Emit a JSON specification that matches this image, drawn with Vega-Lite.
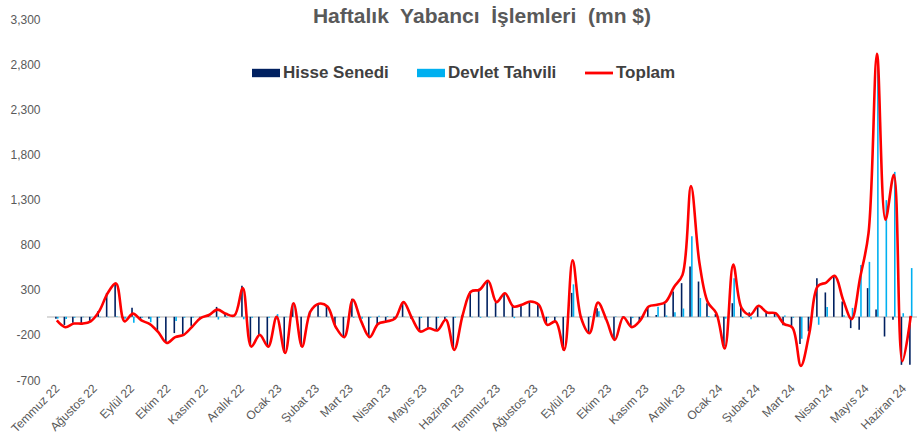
{
  "$schema": "https://vega.github.io/schema/vega-lite/v6.json",
  "width": 870,
  "height": 361,
  "autosize": {"type": "none"},
  "padding": {"left": 47, "top": 19, "right": 0, "bottom": 60},
  "background": "white",
  "config": {
    "view": {"stroke": null},
    "font": "Liberation Sans"
  },
  "title": {
    "text": "Haftalık\u00a0 Yabancı\u00a0 İşlemleri\u00a0 (mn $)",
    "font": "Liberation Sans",
    "fontSize": 21,
    "fontWeight": "bold",
    "color": "#595959",
    "anchor": "middle",
    "offset": -14
  },
  "data": {
    "values": [
      {"hafta": "2022/07/01", "hisse": -20, "tahvil": -20, "toplam": -40},
      {"hafta": "2022/07/08", "hisse": -90, "tahvil": -25, "toplam": -115},
      {"hafta": "2022/07/15", "hisse": -65, "tahvil": -10, "toplam": -75},
      {"hafta": "2022/07/22", "hisse": -70, "tahvil": -5, "toplam": -75},
      {"hafta": "2022/07/29", "hisse": -45, "tahvil": -5, "toplam": -50},
      {"hafta": "2022/08/05", "hisse": 65, "tahvil": -5, "toplam": 60},
      {"hafta": "2022/08/12", "hisse": 265, "tahvil": -5, "toplam": 260},
      {"hafta": "2022/08/19", "hisse": 365, "tahvil": 5, "toplam": 370},
      {"hafta": "2022/08/26", "hisse": -30, "tahvil": -20, "toplam": -50},
      {"hafta": "2022/09/02", "hisse": 100, "tahvil": -65, "toplam": 35},
      {"hafta": "2022/09/09", "hisse": -30, "tahvil": -10, "toplam": -40},
      {"hafta": "2022/09/16", "hisse": -20, "tahvil": -60, "toplam": -80},
      {"hafta": "2022/09/23", "hisse": -160, "tahvil": -10, "toplam": -170},
      {"hafta": "2022/09/30", "hisse": -290, "tahvil": 0, "toplam": -290},
      {"hafta": "2022/10/07", "hisse": -180, "tahvil": -45, "toplam": -225},
      {"hafta": "2022/10/14", "hisse": -190, "tahvil": -10, "toplam": -200},
      {"hafta": "2022/10/21", "hisse": -100, "tahvil": -10, "toplam": -110},
      {"hafta": "2022/10/28", "hisse": -10, "tahvil": -5, "toplam": -15},
      {"hafta": "2022/11/04", "hisse": 15, "tahvil": 5, "toplam": 20},
      {"hafta": "2022/11/11", "hisse": 110, "tahvil": -30, "toplam": 80},
      {"hafta": "2022/11/18", "hisse": 40, "tahvil": -7, "toplam": 33},
      {"hafta": "2022/11/25", "hisse": 15, "tahvil": 0, "toplam": 15},
      {"hafta": "2022/12/02", "hisse": 345, "tahvil": -27, "toplam": 318},
      {"hafta": "2022/12/09", "hisse": -320, "tahvil": -10, "toplam": -330},
      {"hafta": "2022/12/16", "hisse": -200, "tahvil": 0, "toplam": -200},
      {"hafta": "2022/12/23", "hisse": -320, "tahvil": -10, "toplam": -330},
      {"hafta": "2022/12/30", "hisse": -30, "tahvil": 30, "toplam": 0},
      {"hafta": "2023/01/06", "hisse": -395, "tahvil": -5, "toplam": -400},
      {"hafta": "2023/01/13", "hisse": 150, "tahvil": 0, "toplam": 150},
      {"hafta": "2023/01/20", "hisse": -330, "tahvil": 0, "toplam": -330},
      {"hafta": "2023/01/27", "hisse": 60, "tahvil": 0, "toplam": 60},
      {"hafta": "2023/02/03", "hisse": 140, "tahvil": 5, "toplam": 145},
      {"hafta": "2023/02/10", "hisse": 120, "tahvil": -5, "toplam": 115},
      {"hafta": "2023/02/17", "hisse": -110, "tahvil": -5, "toplam": -115},
      {"hafta": "2023/02/24", "hisse": -220, "tahvil": -5, "toplam": -225},
      {"hafta": "2023/03/03", "hisse": 200, "tahvil": -10, "toplam": 190},
      {"hafta": "2023/03/10", "hisse": -30, "tahvil": -20, "toplam": -50},
      {"hafta": "2023/03/17", "hisse": -215, "tahvil": -10, "toplam": -225},
      {"hafta": "2023/03/24", "hisse": -90, "tahvil": 12, "toplam": -78},
      {"hafta": "2023/03/31", "hisse": -60, "tahvil": 8, "toplam": -52},
      {"hafta": "2023/04/07", "hisse": -30, "tahvil": 10, "toplam": -20},
      {"hafta": "2023/04/14", "hisse": 160, "tahvil": 3, "toplam": 163},
      {"hafta": "2023/04/21", "hisse": -20, "tahvil": 5, "toplam": -15},
      {"hafta": "2023/04/28", "hisse": -150, "tahvil": -13, "toplam": -163},
      {"hafta": "2023/05/05", "hisse": -120, "tahvil": -6, "toplam": -126},
      {"hafta": "2023/05/12", "hisse": -140, "tahvil": -11, "toplam": -151},
      {"hafta": "2023/05/19", "hisse": -40, "tahvil": 7, "toplam": -33},
      {"hafta": "2023/05/26", "hisse": -355, "tahvil": -11, "toplam": -366},
      {"hafta": "2023/06/02", "hisse": 15, "tahvil": 5, "toplam": 20},
      {"hafta": "2023/06/09", "hisse": 285, "tahvil": -5, "toplam": 280},
      {"hafta": "2023/06/16", "hisse": 310, "tahvil": -10, "toplam": 300},
      {"hafta": "2023/06/23", "hisse": 405, "tahvil": -5, "toplam": 400},
      {"hafta": "2023/06/30", "hisse": 160, "tahvil": 3, "toplam": 163},
      {"hafta": "2023/07/07", "hisse": 265, "tahvil": -3, "toplam": 262},
      {"hafta": "2023/07/14", "hisse": 130, "tahvil": -15, "toplam": 115},
      {"hafta": "2023/07/21", "hisse": 135, "tahvil": -2, "toplam": 133},
      {"hafta": "2023/07/28", "hisse": 170, "tahvil": 0, "toplam": 170},
      {"hafta": "2023/08/04", "hisse": 140, "tahvil": -5, "toplam": 135},
      {"hafta": "2023/08/11", "hisse": -80, "tahvil": -9, "toplam": -89},
      {"hafta": "2023/08/18", "hisse": -55, "tahvil": 3, "toplam": -52},
      {"hafta": "2023/08/25", "hisse": -370, "tahvil": 4, "toplam": -366},
      {"hafta": "2023/09/01", "hisse": 265, "tahvil": 360, "toplam": 625},
      {"hafta": "2023/09/08", "hisse": -5, "tahvil": -5, "toplam": -10},
      {"hafta": "2023/09/15", "hisse": -190, "tahvil": 9, "toplam": -181},
      {"hafta": "2023/09/22", "hisse": 96, "tahvil": 63, "toplam": 159},
      {"hafta": "2023/09/29", "hisse": -30, "tahvil": -3, "toplam": -33},
      {"hafta": "2023/10/06", "hisse": -260, "tahvil": 5, "toplam": -255},
      {"hafta": "2023/10/13", "hisse": 5, "tahvil": -9, "toplam": -4},
      {"hafta": "2023/10/20", "hisse": -100, "tahvil": -14, "toplam": -114},
      {"hafta": "2023/10/27", "hisse": -50, "tahvil": 10, "toplam": -40},
      {"hafta": "2023/11/03", "hisse": 110, "tahvil": 4, "toplam": 114},
      {"hafta": "2023/11/10", "hisse": 20, "tahvil": 113, "toplam": 133},
      {"hafta": "2023/11/17", "hisse": 150, "tahvil": 15, "toplam": 165},
      {"hafta": "2023/11/24", "hisse": 280, "tahvil": 50, "toplam": 330},
      {"hafta": "2023/12/01", "hisse": 373, "tahvil": 92, "toplam": 465},
      {"hafta": "2023/12/08", "hisse": 558, "tahvil": 892, "toplam": 1450},
      {"hafta": "2023/12/15", "hisse": 391, "tahvil": 209, "toplam": 600},
      {"hafta": "2023/12/22", "hisse": 151, "tahvil": 9, "toplam": 160},
      {"hafta": "2023/12/29", "hisse": 30, "tahvil": 10, "toplam": 40},
      {"hafta": "2024/01/05", "hisse": -330, "tahvil": -20, "toplam": -350},
      {"hafta": "2024/01/12", "hisse": 151, "tahvil": 427, "toplam": 578},
      {"hafta": "2024/01/19", "hisse": 110, "tahvil": -14, "toplam": 96},
      {"hafta": "2024/01/26", "hisse": 50, "tahvil": -28, "toplam": 22},
      {"hafta": "2024/02/02", "hisse": 120, "tahvil": 2, "toplam": 122},
      {"hafta": "2024/02/09", "hisse": 45, "tahvil": 3, "toplam": 48},
      {"hafta": "2024/02/16", "hisse": 35, "tahvil": 5, "toplam": 40},
      {"hafta": "2024/02/23", "hisse": -93, "tahvil": 15, "toplam": -78},
      {"hafta": "2024/03/01", "hisse": -110, "tahvil": -10, "toplam": -120},
      {"hafta": "2024/03/08", "hisse": -300, "tahvil": -243, "toplam": -543},
      {"hafta": "2024/03/15", "hisse": -160, "tahvil": -21, "toplam": -181},
      {"hafta": "2024/03/22", "hisse": 428, "tahvil": -88, "toplam": 340},
      {"hafta": "2024/03/29", "hisse": 270, "tahvil": 110, "toplam": 380},
      {"hafta": "2024/04/05", "hisse": 455, "tahvil": -1, "toplam": 454},
      {"hafta": "2024/04/12", "hisse": 170, "tahvil": 18, "toplam": 188},
      {"hafta": "2024/04/19", "hisse": -125, "tahvil": 99, "toplam": -26},
      {"hafta": "2024/04/26", "hisse": -144, "tahvil": 574, "toplam": 430},
      {"hafta": "2024/05/03", "hisse": 318, "tahvil": 609, "toplam": 927},
      {"hafta": "2024/05/10", "hisse": 80, "tahvil": 2834, "toplam": 2914},
      {"hafta": "2024/05/17", "hisse": -218, "tahvil": 1293, "toplam": 1075},
      {"hafta": "2024/05/24", "hisse": -33, "tahvil": 1606, "toplam": 1573},
      {"hafta": "2024/05/31", "hisse": -532, "tahvil": 40, "toplam": -492},
      {"hafta": "2024/06/07", "hisse": -530, "tahvil": 540, "toplam": 10}
    ]
  },
  "layer": [
    {
      "mark": {"type": "rule", "color": "#D9D9D9", "strokeWidth": 1.5},
      "encoding": {
        "y": {"datum": 0, "type": "quantitative"}
      }
    },
    {
      "mark": {"type": "bar", "width": 1.6, "xOffset": -0.9},
      "encoding": {
        "x": {
          "field": "hafta", "type": "temporal",
          "scale": {"domain": [{"year": 2022, "month": 6, "date": 27}, {"year": 2024, "month": 6, "date": 8}]},
          "axis": {
            "title": null, "grid": false, "domain": false, "ticks": false,
            "tickCount": {"interval": "month", "step": 1},
            "labelAngle": -45, "labelAlign": "right", "labelBaseline": "middle",
            "labelPadding": 6, "labelFontSize": 12, "labelColor": "#595959",
            "labelFont": "Liberation Sans", "labelOverlap": false, "labelFlush": false,
            "labelExpr": "['Ocak','Şubat','Mart','Nisan','Mayıs','Haziran','Temmuz','Ağustos','Eylül','Ekim','Kasım','Aralık'][month(datum.value)] + ' ' + timeFormat(datum.value, '%y')"
          }
        },
        "y": {
          "field": "hisse", "type": "quantitative", "stack": null,
          "scale": {"domain": [-700, 3300], "nice": false, "zero": false},
          "axis": {
            "title": null, "grid": false, "domain": false, "ticks": false,
            "values": [-700, -200, 300, 800, 1300, 1800, 2300, 2800, 3300],
            "format": ",.0f", "labelPadding": 7, "labelFontSize": 12,
            "labelColor": "#595959", "labelFont": "Liberation Sans",
            "labelExpr": "replace(datum.label, '−', '-')"
          }
        },
        "color": {
          "datum": "Hisse Senedi",
          "scale": {"domain": ["Hisse Senedi", "Devlet Tahvili", "Toplam"], "range": ["#002060", "#00B0F0", "#FF0000"]},
          "legend": {
            "title": null, "orient": "none", "legendX": 205, "legendY": 40,
            "direction": "horizontal", "padding": 0,
            "symbolType": "M-1,-0.3H1V0.3H-1Z", "symbolSize": 784,
            "symbolStrokeWidth": 0, "symbolOpacity": 1,
            "labelFont": "Liberation Sans", "labelFontSize": 17, "labelFontWeight": "bold",
            "labelColor": "#404040", "labelOffset": 3, "columnPadding": 28,
            "encode": {
              "symbols": {
                "update": {
                  "shape": {"signal": "datum.label === 'Toplam' ? 'M-1,-0.1H1V0.1H-1Z' : 'M-1,-0.3H1V0.3H-1Z'"},
                  "fill": {"scale": "color", "field": "value"},
                  "stroke": {"value": "transparent"}
                }
              }
            }
          }
        }
      }
    },
    {
      "mark": {"type": "bar", "width": 1.6, "xOffset": 0.9},
      "encoding": {
        "x": {"field": "hafta", "type": "temporal"},
        "y": {"field": "tahvil", "type": "quantitative", "stack": null},
        "color": {"datum": "Devlet Tahvili"}
      }
    },
    {
      "mark": {"type": "line", "interpolate": "catmull-rom", "strokeWidth": 2.6},
      "encoding": {
        "x": {"field": "hafta", "type": "temporal"},
        "y": {"field": "toplam", "type": "quantitative"},
        "color": {"datum": "Toplam"}
      }
    }
  ]
}
